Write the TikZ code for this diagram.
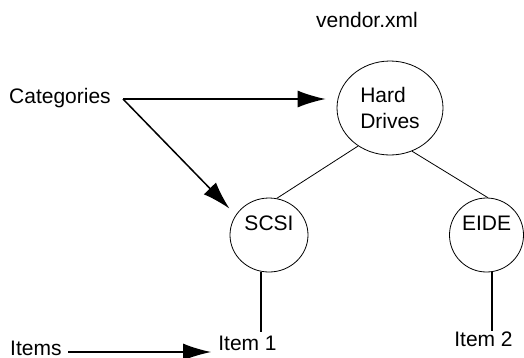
\documentclass[tikz,border=0pt]{standalone}
\usepackage{fontspec}
\setmainfont{Liberation Sans}
\usetikzlibrary{arrows.meta,shapes.geometric}
\begin{document}
\begin{tikzpicture}[x=1pt,y=-1pt,
  every node/.style={font=\fontsize{21}{26}\selectfont, inner sep=0pt},
  ring/.style={draw, ellipse, line width=0.8pt, inner sep=0pt},
  uppertext/.style={text height=15pt, text depth=25pt},
  thinline/.style={line width=0.8pt},
  stem/.style={line width=1.6pt},
  pointer/.style={line width=1.5pt, -{Latex[length=28pt,width=17pt]}}
]
\useasboundingbox (0,0) rectangle (524,357);

% title
\node[anchor=base] (title) at (367,27) {vendor.xml};

% category tree
\node[ring, minimum width=106pt, minimum height=94pt, align=left] (hd) at (390,108) {Hard\\Drives};
\node[ring, uppertext, minimum width=78pt, minimum height=74pt] (scsi) at (269,235) {SCSI};
\node[ring, uppertext, minimum width=74pt, minimum height=74pt] (eide) at (486.5,235) {EIDE};

% items
\node[anchor=base] (item1) at (247.5,350) {Item 1};
\node[anchor=base] (item2) at (483.5,346) {Item 2};

% side labels
\node[anchor=base west] (cat) at (9,103) {Categories};
\node[anchor=base west] (items) at (10,355) {Items};
\coordinate (catpt) at (123,99);
\coordinate (itemspt) at (68,352);

% tree edges
\draw[thinline] (hd.230.6) -- (scsi.78);
\draw[thinline] (hd.297.6) -- (eide.88);
\draw[stem, shorten >=3pt] (scsi.258) -- (scsi.258 |- item1.north);
\draw[stem] (eide.278) -- (eide.278 |- item2.north);

% pointers
\draw[pointer, shorten >=11pt] (catpt) -- (catpt -| hd.west);
\draw[pointer, shorten >=9pt] (catpt) -- (scsi.149);
\draw[pointer, shorten >=7pt] (itemspt) -- (itemspt -| item1.west);
\end{tikzpicture}
\end{document}
